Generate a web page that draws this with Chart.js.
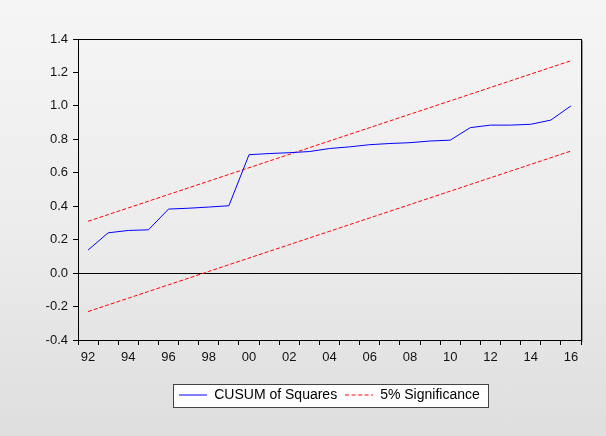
<!DOCTYPE html>
<html>
<head>
<meta charset="utf-8">
<script src="https://cdn.jsdelivr.net/npm/chart.js@4"></script>
<style>
  html, body { margin: 0; padding: 0; }
  body { width: 606px; height: 436px; background: linear-gradient(to bottom, #f5f5f5 0%, #ededed 50%, #dedede 100%); }
  #wrap { position: relative; width: 606px; height: 436px; }
</style>
</head>
<body>
<div id="wrap"><canvas id="chart" width="606" height="436"></canvas></div>
<script>
const years = ["92", "93", "94", "95", "96", "97", "98", "99", "00", "01", "02", "03", "04",
               "05", "06", "07", "08", "09", "10", "11", "12", "13", "14", "15", "16"];
const cusumSquares = [0.138, 0.241, 0.255, 0.259, 0.383, 0.388, 0.395, 0.403, 0.708, 0.715, 0.72, 0.727, 0.745,
                      0.755, 0.768, 0.775, 0.78, 0.79, 0.795, 0.87, 0.885, 0.885, 0.89, 0.915, 1.0];
const upperBand = [0.31, 0.35, 0.39, 0.43, 0.47, 0.51, 0.55, 0.59, 0.63, 0.67, 0.71, 0.75, 0.79,
                   0.83, 0.87, 0.91, 0.95, 0.99, 1.03, 1.07, 1.11, 1.15, 1.19, 1.23, 1.27];
const lowerBand = [-0.23, -0.19, -0.15, -0.11, -0.07, -0.03, 0.01, 0.05, 0.09, 0.13, 0.17, 0.21, 0.25,
                   0.29, 0.33, 0.37, 0.41, 0.45, 0.49, 0.53, 0.57, 0.61, 0.65, 0.69, 0.73];
const yTicks = [-0.4, -0.2, 0.0, 0.2, 0.4, 0.6, 0.8, 1.0, 1.2, 1.4];

const FONT = "'Liberation Sans', Arial, sans-serif";

// little canvases used as legend symbols, so the dash shows up in the legend
function legendLine(color, dash) {
    const c = document.createElement("canvas");
    c.width = 28; c.height = 3;
    const g = c.getContext("2d");
    g.strokeStyle = color;
    g.lineWidth = 1;
    g.setLineDash(dash);
    g.beginPath();
    g.moveTo(0, 1.5); g.lineTo(28, 1.5);
    g.stroke();
    return c;
}
const legendSymbols = [legendLine("#0000ff", []), legendLine("#ff0000", [4, 2.5])];

// box round the plot and round the legend, like the EViews output
const framePlugin = {
    id: "frames",
    afterDraw(chart) {
        const { ctx, chartArea } = chart;
        ctx.save();
        ctx.strokeStyle = "#000";
        ctx.lineWidth = 1;
        const l = Math.round(chartArea.left) + 0.5, t = Math.round(chartArea.top) + 0.5;
        const r = Math.round(chartArea.right) + 0.5, b = Math.round(chartArea.bottom) + 0.5;
        ctx.strokeRect(l, t, r - l, b - t);
        ctx.strokeStyle = "#9a9a9a";
        ctx.beginPath();
        ctx.moveTo(r + 1, t + 1); ctx.lineTo(r + 1, b + 1);
        ctx.stroke();

        const boxes = chart.legend.legendHitBoxes;
        if (boxes && boxes.length) {
            const first = boxes[0], last = boxes[boxes.length - 1];
            const x0 = Math.round(first.left - 6) + 0.5;
            const x1 = Math.round(last.left + last.width + 8) + 0.5;
            const y0 = Math.round(first.top - 4) + 0.5;
            const y1 = Math.round(first.top + first.height + 5) + 0.5;
            ctx.fillStyle = "#fff";
            ctx.strokeStyle = "#444";
            ctx.globalCompositeOperation = "destination-over";
            ctx.fillRect(x0, y0, x1 - x0, y1 - y0);
            ctx.globalCompositeOperation = "source-over";
            ctx.strokeRect(x0, y0, x1 - x0, y1 - y0);
        }
        ctx.restore();
    }
};

new Chart(document.getElementById("chart"), {
    type: "line",
    data: {
        labels: years,
        datasets: [
            { label: "CUSUM of Squares", data: cusumSquares, borderColor: "#0000ff", borderWidth: 1, pointRadius: 0, tension: 0 },
            { label: "5% Significance", data: upperBand, borderColor: "#ff0000", borderWidth: 1, borderDash: [4, 2], pointRadius: 0, tension: 0 },
            { label: "lower", data: lowerBand, borderColor: "#ff0000", borderWidth: 1, borderDash: [4, 2], pointRadius: 0, tension: 0 }
        ]
    },
    options: {
        responsive: false,
        animation: false,
        layout: { padding: { left: 0, right: 25, top: 39, bottom: 24 } },
        plugins: {
            tooltip: { enabled: false },
            legend: {
                position: "bottom",
                fullSize: false,
                labels: {
                    font: { family: FONT, size: 14 },
                    color: "#000",
                    usePointStyle: true,
                    pointStyleWidth: 28,
                    padding: 8,
                    generateLabels: chart => Chart.defaults.plugins.legend.labels.generateLabels(chart)
                        .filter(item => item.datasetIndex < 2)
                        .map(item => Object.assign(item, { pointStyle: legendSymbols[item.datasetIndex] }))
                }
            }
        },
        scales: {
            x: {
                type: "category",
                offset: true,
                grid: { offset: true, drawOnChartArea: false, tickLength: 5, tickColor: "#000" },
                border: { display: false },
                ticks: {
                    autoSkip: false,
                    maxRotation: 0,
                    padding: 5,
                    color: "#111",
                    font: { family: FONT, size: 13 },
                    callback: function (value, index) { return index % 2 === 0 ? this.getLabelForValue(value) : ""; }
                },
                afterFit: scale => { scale.height = 40; }
            },
            y: {
                min: -0.4,
                max: 1.4,
                afterBuildTicks: scale => { scale.ticks = yTicks.map(v => ({ value: v })); },
                grid: {
                    color: c => (c.tick && Math.abs(c.tick.value) < 1e-9 ? "#000" : "rgba(0,0,0,0)"),
                    tickColor: "#000",
                    tickLength: 5,
                    lineWidth: 1
                },
                border: { display: false },
                ticks: {
                    padding: 5,
                    color: "#111",
                    font: { family: FONT, size: 13 },
                    callback: v => v.toFixed(1)
                },
                afterFit: scale => { scale.width = 78; }
            }
        }
    },
    plugins: [framePlugin]
});
</script>
</body>
</html>
